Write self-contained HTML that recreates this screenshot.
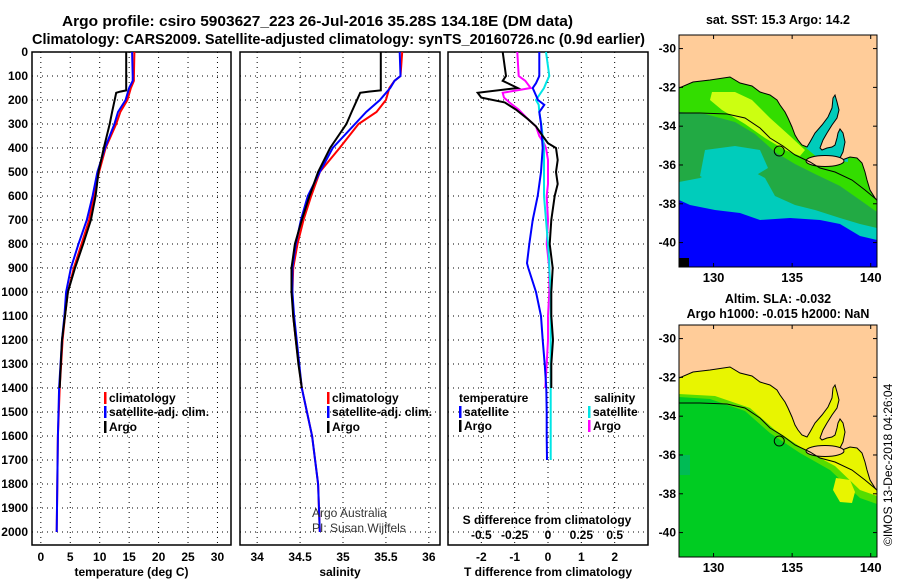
<!DOCTYPE html>
<html><head><meta charset="utf-8">
<style>
body{margin:0;background:#fff;}
svg{display:block;font-family:"Liberation Sans",Arial,sans-serif;}
</style></head>
<body>
<svg id="fig" width="900" height="580" viewBox="0 0 900 580" xmlns="http://www.w3.org/2000/svg">
<text x="62" y="26" textLength="511" lengthAdjust="spacingAndGlyphs" font-size="15" font-weight="bold">Argo profile: csiro 5903627_223 26-Jul-2016 35.28S 134.18E (DM data)</text>
<text x="32" y="44" textLength="613" lengthAdjust="spacingAndGlyphs" font-size="15" font-weight="bold">Climatology: CARS2009. Satellite-adjusted climatology: synTS_20160726.nc (0.9d earlier)</text>
<g id="panels"></g>
<g id="maps"></g>
<text transform="translate(892,546) rotate(-90)" font-size="12">©IMOS 13-Dec-2018 04:26:04</text>
</svg>
<script>
// ---- profile data ----
const climDepth = [0,100,120,150,200,250,300,400,500,600,700,800,900,1000,1100,1200,1400,1600,1800,2000];
const tempClim = [15.9,15.8,15.8,15.3,14.7,13.5,12.8,11.0,9.9,9.0,8.2,6.9,5.6,4.6,4.1,3.7,3.2,2.9,2.8,2.7];
const tempSat  = [15.5,15.6,15.6,15.0,14.4,13.1,12.5,10.9,9.6,8.8,7.8,6.4,5.1,4.3,4.0,3.6,3.1,2.9,2.8,2.7];
const salClim  = [35.69,35.67,35.6,35.54,35.5,35.39,35.18,34.96,34.73,34.63,34.54,34.47,34.42,34.41,34.42,34.45,34.52,34.64,34.71,34.73];
const salSat   = [35.66,35.67,35.6,35.55,35.43,35.27,35.14,34.88,34.73,34.59,34.51,34.45,34.41,34.41,34.43,34.46,34.52,34.64,34.71,34.73];
const argoDepth = [0,160,165,170,250,300,400,500,600,700,800,900,1000,1100,1200,1300,1400];
const tempArgo = [14.5,14.5,13.5,12.8,12.1,11.7,10.7,9.8,9.3,8.5,7.2,5.8,4.6,4.1,3.6,3.4,3.2];
const salArgo  = [35.44,35.44,35.3,35.2,35.1,35.04,34.85,34.71,34.61,34.52,34.44,34.40,34.40,34.42,34.45,34.48,34.52];
const diffArgoDepth = [0,100,120,150,170,190,210,240,280,310,350,380,400,450,500,550,600,700,800,900,1000,1100,1200,1300,1400];
const dTArgo = [-1.36,-1.26,-1.36,-0.91,-2.11,-2.0,-1.3,-0.96,-0.6,-0.36,-0.16,0,0.24,0.29,0.24,0.29,0.2,0.1,0.05,0.14,0.1,0.1,0.15,0.1,0.1];
const dSArgo = [-0.23,-0.22,-0.17,-0.13,-0.34,-0.33,-0.29,-0.22,-0.15,-0.09,-0.065,-0.03,-0.015,0,0,0,-0.01,0,-0.01,0.01,0.01,0,0,-0.01,-0.02];
const diffSatDepth = [0,100,130,150,200,220,250,300,400,500,600,700,800,880,900,1000,1100,1200,1300,1400,1500,1600,1700];
const dTSat = [-0.26,-0.26,-0.36,-0.46,-0.3,-0.11,-0.26,-0.21,-0.16,-0.21,-0.31,-0.46,-0.56,-0.63,-0.59,-0.36,-0.21,-0.16,-0.1,-0.05,-0.04,-0.04,-0.03];
const dSSat = [-0.015,0.01,-0.015,-0.03,-0.09,-0.07,-0.065,-0.05,-0.03,-0.03,-0.03,-0.015,0,0.01,0.01,0.02,0.02,0.02,0.02,0.02,0.02,0.02,0.02];
const depthTicks = [0,100,200,300,400,500,600,700,800,900,1000,1100,1200,1300,1400,1500,1600,1700,1800,1900,2000];
const tempTicks = [0,5,10,15,20,25,30];
const salTicks = [34,34.5,35,35.5,36];
const salTickLabels = ["34","34.5","35","35.5","36"];
const dTTicks = [-2,-1,0,1,2];
const dSTicks = [-0.5,-0.25,0,0.25,0.5];
const dSTickLabels = ["-0.5","-0.25","0","0.25","0.5"];
const latTicks = [-30,-32,-34,-36,-38,-40];
const lonTicks = [130,135,140];
const argoPos = [134.18,-35.28];

const NS="http://www.w3.org/2000/svg";
function mk(tag,attrs,parent){const e=document.createElementNS(NS,tag);for(const k in attrs)e.setAttribute(k,attrs[k]);parent.appendChild(e);return e;}
const Y0=52,Y1=545,DMAX=2054;
function yD(d){return Y0+(d/DMAX)*(Y1-Y0);}
function lin(d0,d1,r0,r1){return v=>r0+(v-d0)/(d1-d0)*(r1-r0);}
const P=document.getElementById('panels');

function panel(name,x0,x1,xt,xtl,xfun,title){
  const g=mk('g',{},P);
  
  
  depthTicks.forEach(d=>{if(d>0){const l=mk('line',{x1:x0,x2:x1,y1:yD(d),y2:yD(d),stroke:'#000','stroke-width':1,'stroke-dasharray':'1,4'},g);
    }});
  xt.forEach((v,i)=>{const x=xfun(v);const l=mk('line',{x1:x,x2:x,y1:Y0,y2:Y1,stroke:'#000','stroke-width':1,'stroke-dasharray':'1,4'},g);
    
    if(xtl){const t=mk('text',{x:x,y:561,'text-anchor':'middle','font-size':12,'font-weight':'bold'},g);t.textContent=xtl[i];
    }});
  const r=mk('rect',{x:x0,y:Y0,width:x1-x0,height:Y1-Y0,fill:'none',stroke:'#000','stroke-width':1.5},g);
  
  const t=mk('text',{x:(x0+x1)/2,y:576,'text-anchor':'middle','font-size':12,'font-weight':'bold'},g);t.textContent=title;
  
  return g;
}
function series(g,name,xs,ds,xfun,color,w){
  const pts=xs.map((v,i)=>xfun(v).toFixed(1)+','+yD(ds[i]).toFixed(1)).join(' ');
  const l=mk('polyline',{points:pts,fill:'none',stroke:color,'stroke-width':w||2},g);
  
}
function legend(g,x,y,color,label){
  const r=mk('rect',{x:x,y:y-10,width:2.5,height:12,fill:color},g);
  
  const t=mk('text',{x:x+5,y:y,'font-size':12,'font-weight':'bold'},g);t.textContent=label;
  
}
depthTicks.forEach(d=>{const t=mk('text',{x:28,y:yD(d)+4,'text-anchor':'end','font-size':12,'font-weight':'bold'},P);t.textContent=d;
  });

const xT=lin(-1.5,32.3,32,231);
const g1=panel('temperature-panel',32,231,tempTicks,tempTicks.map(String),xT,'temperature (deg C)');
series(g1,'temp-climatology',tempClim,climDepth,xT,'#ff0000');
series(g1,'temp-satellite',tempSat,climDepth,xT,'#0000ff');
series(g1,'temp-argo',tempArgo,argoDepth,xT,'#000000');
legend(g1,104,402,'#ff0000','climatology');legend(g1,104,416,'#0000ff','satellite-adj. clim.');legend(g1,104,431,'#000','Argo');
const xS=lin(33.8,36.13,240,440);
const g2=panel('salinity-panel',240,440,salTicks,salTickLabels,xS,'salinity');
series(g2,'sal-climatology',salClim,climDepth,xS,'#ff0000');
series(g2,'sal-satellite',salSat,climDepth,xS,'#0000ff');
series(g2,'sal-argo',salArgo,argoDepth,xS,'#000000');
legend(g2,327,402,'#ff0000','climatology');legend(g2,327,416,'#0000ff','satellite-adj. clim.');legend(g2,327,431,'#000','Argo');
let a=mk('text',{x:312,y:517,'font-size':12,fill:'#333'},g2);a.textContent='Argo Australia';

a=mk('text',{x:312,y:532,'font-size':12,fill:'#333'},g2);a.textContent='PI: Susan Wijffels';

const xdT=lin(-3,3,448,648), xdS=lin(-0.75,0.75,448,648);
const g3=panel('difference-panel',448,648,dTTicks,dTTicks.map(String),xdT,'T difference from climatology');
series(g3,'dS-argo',dSArgo,diffArgoDepth,xdS,'#ff00ff');
series(g3,'dS-satellite',dSSat,diffSatDepth,xdS,'#00e5e5');
series(g3,'dT-satellite',dTSat,diffSatDepth,xdT,'#0000ff');
series(g3,'dT-argo',dTArgo,diffArgoDepth,xdT,'#000000');
let tt=mk('text',{x:459,y:402,'font-size':12,'font-weight':'bold'},g3);tt.textContent='temperature';

tt=mk('text',{x:594,y:402,'font-size':12,'font-weight':'bold'},g3);tt.textContent='salinity';

legend(g3,459,416,'#0000ff','satellite');legend(g3,459,430,'#000','Argo');
legend(g3,588,416,'#00e5e5','satellite');legend(g3,588,430,'#ff00ff','Argo');
tt=mk('text',{x:547,y:524,'text-anchor':'middle','font-size':12,'font-weight':'bold'},g3);tt.textContent='S difference from climatology';

dSTicks.forEach((v,i)=>{const t=mk('text',{x:xdS(v),y:539,'text-anchor':'middle','font-size':12,'font-weight':'bold'},g3);t.textContent=dSTickLabels[i];
  });

// ---- maps (shapes given in pixel coords of the top map; bottom map offset by 290) ----
const M=document.getElementById('maps');
const coastPx=[[679,88],[693,82],[710,80],[730,77],[740,83],[752,86],[760,92],[770,95],[777,100],[780,105],[785,112],[788,118],[792,127],[795,135],[798,140],[802,145],[807,147],[810,142],[815,133],[822,125],[828,117],[832,108],[833,98],[835,95],[837,102],[839,110],[837,118],[832,125],[827,133],[823,140],[820,148],[822,150],[827,148],[832,147],[835,145],[837,138],[838,133],[840,129],[843,133],[845,142],[843,152],[840,158],[837,162],[842,160],[850,157],[857,158],[862,163],[865,172],[867,180],[870,190],[875,198],[879,203]];
const landTail=[[880,203],[880,30],[676,30],[676,88]];
function mapPanel(name,dy,title1,title2,bg,bands,gulfColor){
  const g=mk('g',{},M);
  
  const y0=35+dy,y1=267+dy;
  const X=lin(127.8,140.4,679,877), Y=lin(-29.3,-41.3,y0,y0+232.8);
  const cid='clip'+name;
  const cp=mk('clipPath',{id:cid},g);mk('rect',{x:679,y:y0,width:198,height:y1-y0},cp);
  const inner=mk('g',{'clip-path':'url(#'+cid+')'},g);
  mk('rect',{x:679,y:y0,width:198,height:y1-y0,fill:bg},inner);
  const P2=p=>p.map(q=>q[0]+','+(q[1]+dy)).join(' ');
  bands.forEach(b=>{mk('polygon',{points:P2(b.p),fill:b.c},inner);});
  const gulf=mk('polygon',{points:P2([[806,148],[830,90],[842,95],[848,125],[848,162],[818,158]]),fill:gulfColor},inner);
  
  const lp=mk('polygon',{points:P2(coastPx.concat(landTail)),fill:'#ffcc99',stroke:'#000','stroke-width':1},inner);
  
  const ki=mk('ellipse',{cx:825,cy:161+dy,rx:19,ry:5.5,fill:'#ffcc99',stroke:'#000','stroke-width':1},inner);
  
  const iso=[[679,113],[700,113],[727,114],[745,118],[760,128],[770,138],[783,146],[795,155],[810,162],[820,168],[835,172],[852,180],[865,190],[877,200]];
  mk('polyline',{points:P2(iso),fill:'none',stroke:'#000','stroke-width':1},inner);
  const c=mk('circle',{cx:X(argoPos[0]),cy:Y(argoPos[1]),r:5,fill:'none',stroke:'#000','stroke-width':1},inner);
  
  mk('rect',{x:679,y:y0,width:198,height:y1-y0,fill:'none',stroke:'#000','stroke-width':1},g);
  latTicks.forEach(l=>{const y=Y(l);mk('line',{x1:679,x2:683,y1:y,y2:y,stroke:'#000'},g);mk('line',{x1:873,x2:877,y1:y,y2:y,stroke:'#000'},g);
    const t=mk('text',{x:676,y:y+4,'text-anchor':'end','font-size':12,'font-weight':'bold'},g);t.textContent=l;
    });
  lonTicks.forEach(l=>{const x=X(l);mk('line',{x1:x,x2:x,y1:y0,y2:y0+4,stroke:'#000'},g);mk('line',{x1:x,x2:x,y1:y1-4,y2:y1,stroke:'#000'},g);
    const t=mk('text',{x:x,y:y1+15,'text-anchor':'middle','font-size':13,'font-weight':'bold'},g);t.textContent=l;
    });
  let t=mk('text',{x:778,y:title2?y0-22:y0-11,'text-anchor':'middle','font-size':12.5,'font-weight':'bold'},g);t.textContent=title1;
  
  if(title2){t=mk('text',{x:778,y:y0-7,'text-anchor':'middle','font-size':12.5,'font-weight':'bold'},g);t.textContent=title2;
    }
}
mapPanel('sst-map',0,'sat. SST: 15.3 Argo: 14.2',null,'#00ccbb',[
 {c:'#22aa44',p:[[679,60],[877,60],[877,228],[860,224],[840,218],[815,210],[795,205],[775,196],[765,178],[750,170],[720,168],[700,178],[679,182]]},
 {c:'#00ccbb',p:[[705,150],[735,146],[760,150],[768,168],[745,182],[715,184],[700,176]]},
 {c:'#33dd00',p:[[679,60],[877,60],[877,212],[860,200],[840,186],[815,174],[795,164],[775,152],[755,134],[735,122],[705,114],[679,112]]},
 {c:'#ccff11',p:[[712,92],[735,92],[752,100],[770,118],[790,136],[805,150],[800,156],[785,150],[765,138],[745,124],[722,110],[710,100]]},
 {c:'#0000ff',p:[[679,200],[690,205],[715,210],[740,213],[760,220],[790,218],[820,220],[840,224],[860,236],[877,240],[877,270],[679,270]]},
 {c:'#000000',p:[[679,258],[689,258],[689,268],[679,268]]}],'#00ccbb');
mapPanel('sla-map',290,'Altim. SLA: -0.032','Argo h1000: -0.015 h2000: NaN','#00cc22',[
 {c:'#55dd00',p:[[679,60],[877,60],[877,214],[860,208],[830,180],[800,163],[770,143],[745,121],[710,109],[679,107]]},
 {c:'#e8f500',p:[[679,60],[877,60],[877,206],[860,200],[835,176],[805,160],[775,140],[750,118],[715,106],[679,104]]},
 {c:'#e8f500',p:[[836,188],[850,190],[855,202],[852,213],[840,212],[833,200]]},
 {c:'#00bb55',p:[[679,165],[690,165],[690,185],[679,185]]}],'#e8f500');
</script>
</body></html>
